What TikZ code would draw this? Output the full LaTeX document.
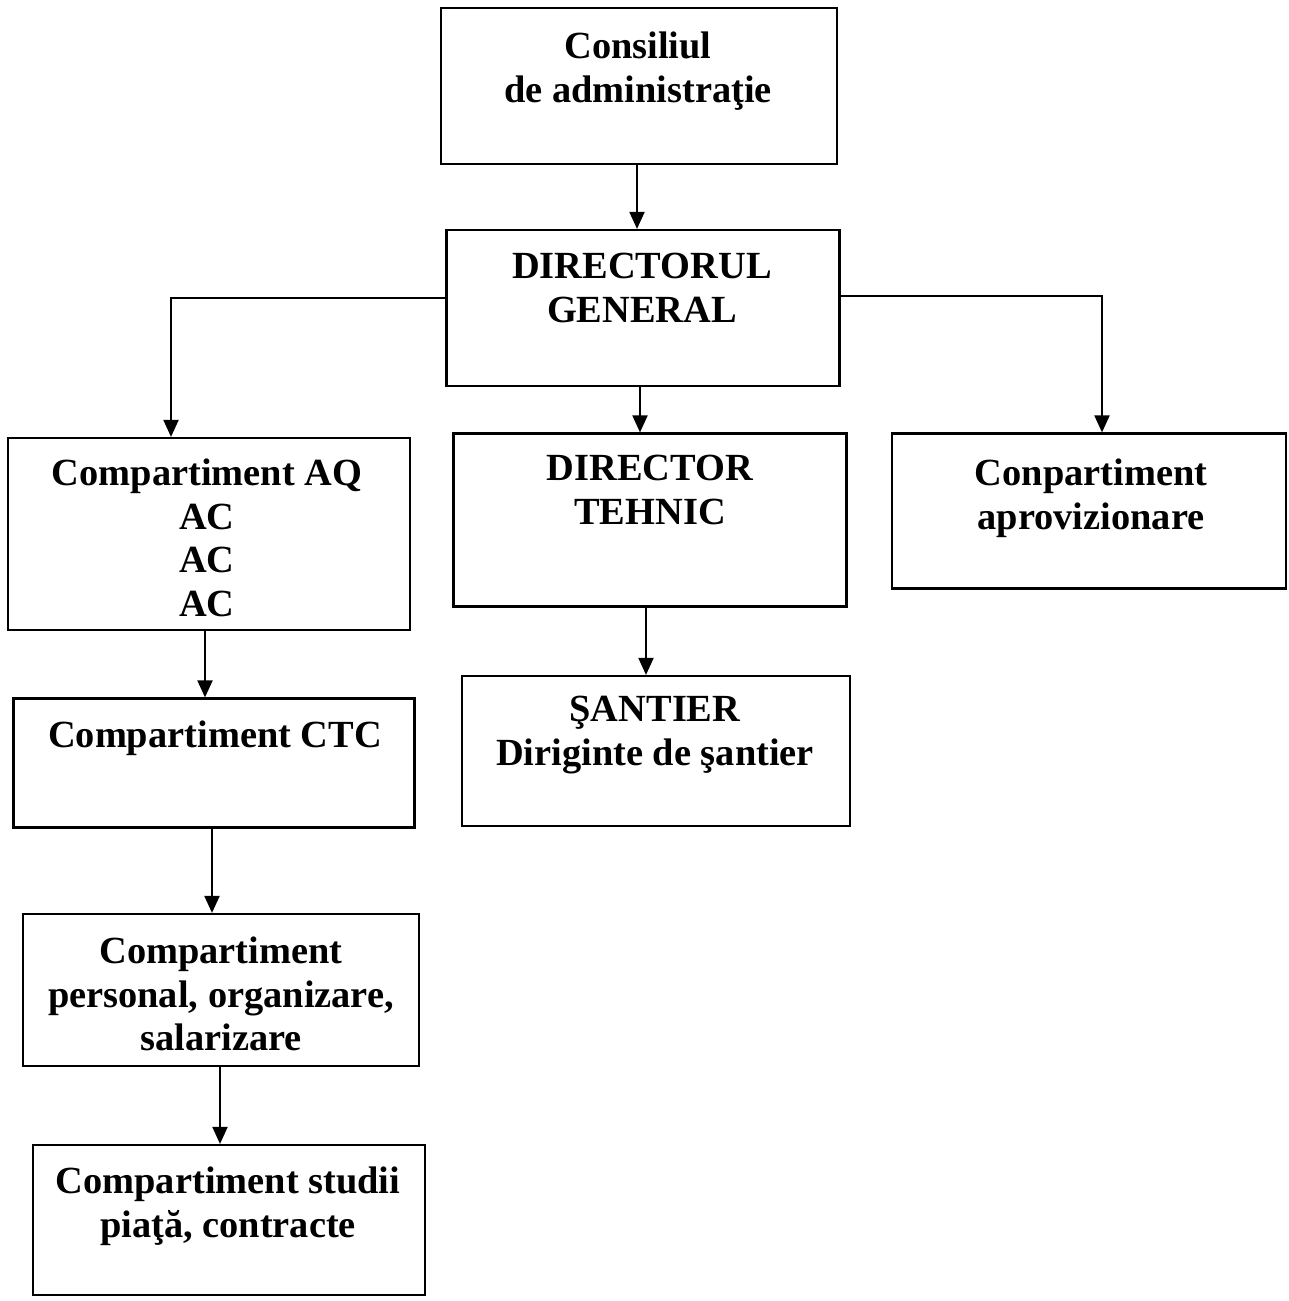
\documentclass[tikz,border=0pt]{standalone}
\usepackage{fontspec}
\setmainfont{Liberation Serif}
\usetikzlibrary{arrows.meta}
\tikzset{
  box/.style={draw=black, line width=2.2pt, rectangle, inner sep=0pt, fill=none},
  txt/.style={font=\bfseries\fontsize{38.4}{43.5}\selectfont, align=center, inner sep=0pt, anchor=north},
  arr/.style={draw=black, line width=2pt, -{Triangle[width=15pt,length=17pt]}}
}
\begin{document}
\begin{tikzpicture}[x=1pt,y=-1pt]
\fill[white] (0,0) rectangle (1289,1301);
\useasboundingbox (0,0) rectangle (1289,1301);

% boxes
\node[box, minimum width=396pt, minimum height=156pt] (cons) at (639,86) {};
\node[box, minimum width=393pt, minimum height=156pt] (dg) at (643,308) {};
\node[box, minimum width=402pt, minimum height=192pt] (aq) at (209,534) {};
\node[box, minimum width=393pt, minimum height=173pt] (dt) at (650,520) {};
\node[box, minimum width=394pt, minimum height=155pt] (apr) at (1089,511) {};
\node[box, minimum width=401pt, minimum height=129pt] (ctc) at (214,763) {};
\node[box, minimum width=388pt, minimum height=150pt] (sant) at (656,751) {};
\node[box, minimum width=396pt, minimum height=152pt] (pers) at (221,990) {};
\node[box, minimum width=392pt, minimum height=150pt] (stud) at (229,1220) {};

% texts
\node[txt] (tcons) at (638,32) {Consiliul\\de administraţie};
\node[txt] (tdg) at (642,253) {DIRECTORUL\\GENERAL};
\node[txt] (taq) at (207,459) {Compartiment AQ\\AC\\AC\\AC};
\node[txt] (tdt) at (650,455) {DIRECTOR\\TEHNIC};
\node[txt] (tapr) at (1091,459) {Conpartiment\\aprovizionare};
\node[txt] (tctc) at (215,721) {Compartiment CTC};
\node[txt] (tsant) at (655,696) {ŞANTIER\\Diriginte de şantier};
\node[txt] (tpers) at (221,937) {Compartiment\\personal, organizare,\\salarizare};
\node[txt] (tstud) at (228,1167) {Compartiment studii\\piaţă, contracte};

% connectors
\draw[arr] ([xshift=-2pt]cons.south) -- ([xshift=-2pt]cons.south |- dg.north);
\draw[arr] ([yshift=10pt]dg.west) -| ([xshift=-38pt]aq.north);
\draw[arr] ([yshift=12pt]dg.east) -| ([xshift=13pt]apr.north);
\draw[arr] ([xshift=-3pt]dg.south) -- ([xshift=-3pt]dg.south |- dt.north);
\draw[arr] ([xshift=-4pt]aq.south) -- ([xshift=-4pt]aq.south |- ctc.north);
\draw[arr] ([xshift=-4pt]dt.south) -- ([xshift=-4pt]dt.south |- sant.north);
\draw[arr] ([xshift=-2pt]ctc.south) -- ([xshift=-2pt]ctc.south |- pers.north);
\draw[arr] ([xshift=-1pt]pers.south) -- ([xshift=-1pt]pers.south |- stud.north);
\end{tikzpicture}
\end{document}
